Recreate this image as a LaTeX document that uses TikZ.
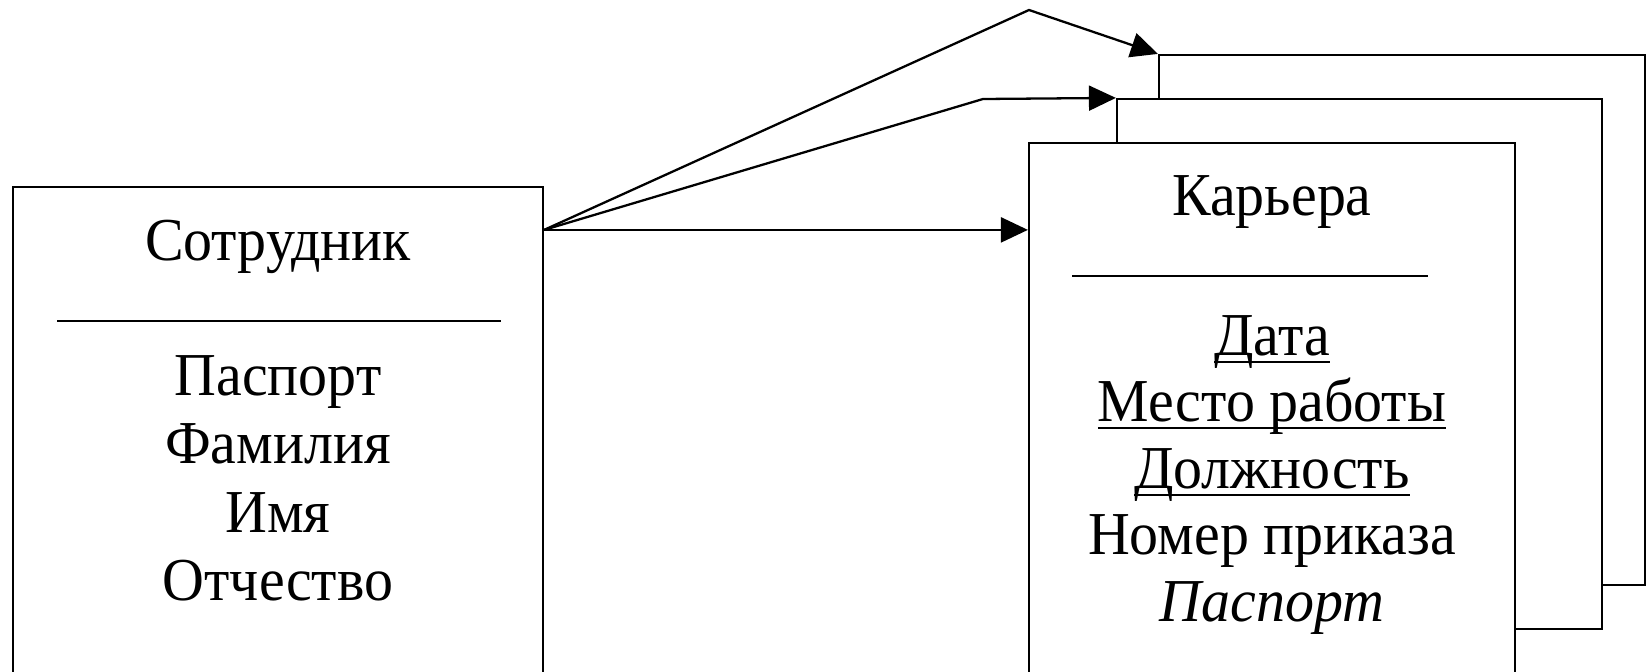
\documentclass[tikz,border=0pt]{standalone}
\usepackage{fontspec}
\newfontfamily\erfont[FakeStretch=0.95]{Liberation Serif}
\usetikzlibrary{arrows.meta}
\newcommand{\pkey}[1]{\setbox0\hbox{#1}\rlap{\rule[-4.5pt]{\wd0}{1.1pt}}\box0}

\begin{document}
\begin{tikzpicture}[x=0.02cm, y=-0.02cm,
      entity/.style={rectangle, draw, fill=white, line width=1.3pt, inner sep=0pt},
      attr/.style={anchor=base, inner sep=0pt, font=\erfont\fontsize{34.7pt}{36pt}\selectfont},
      rel/.style={line width=1.3pt, -{Triangle[length=0.54cm, width=0.5cm]}}]
    \path[use as bounding box, clip] (0,0) rectangle (1646,672);
    \node[entity, minimum width=10.6cm, minimum height=10.26cm] (emp) at (278,443.5) {};
    \node[attr] (empName) at (278,260) {Сотрудник};
    \draw[line width=1.3pt] (57,321) -- (501,321);
    \node[attr] (empA1) at (278,395) {Паспорт};
    \node[attr] (empA2) at (278,463) {Фамилия};
    \node[attr] (empA3) at (278,532) {Имя};
    \node[attr] (empA4) at (278,600) {Отчество};

    \node[entity, minimum width=9.72cm, minimum height=10.6cm] (car3) at (1402,320) {};
    \node[entity, minimum width=9.7cm, minimum height=10.6cm] (car2) at (1359.5,364) {};
    \node[entity, minimum width=9.72cm, minimum height=11.14cm] (car1) at (1272,421.5) {};
    \node[attr] (carName) at (1272,215) {Карьера};
    \draw[line width=1.3pt] (1072,276) -- (1428,276);
    \node[attr] (carA1) at (1272,355) {\pkey{Дата}};
    \node[attr] (carA2) at (1272,421.5) {\pkey{Место работы}};
    \node[attr] (carA3) at (1272,488) {\pkey{Должность}};
    \node[attr] (carA4) at (1272,554.5) {Номер приказа};
    \node[attr] (carA5) at (1272,621) {\itshape Паспорт};

    \coordinate (src) at ([yshift=-0.88cm]emp.north east);
    \coordinate (bendB) at (983,99);
    \coordinate (bendC) at (1029,10);
    \draw[rel] (src) -- (src -| car1.west);
    \draw[rel] (src) -- (bendB) -- (car2.north west);
    \draw[rel] (src) -- (bendC) -- (car3.north west);
  \end{tikzpicture}
\end{document}
